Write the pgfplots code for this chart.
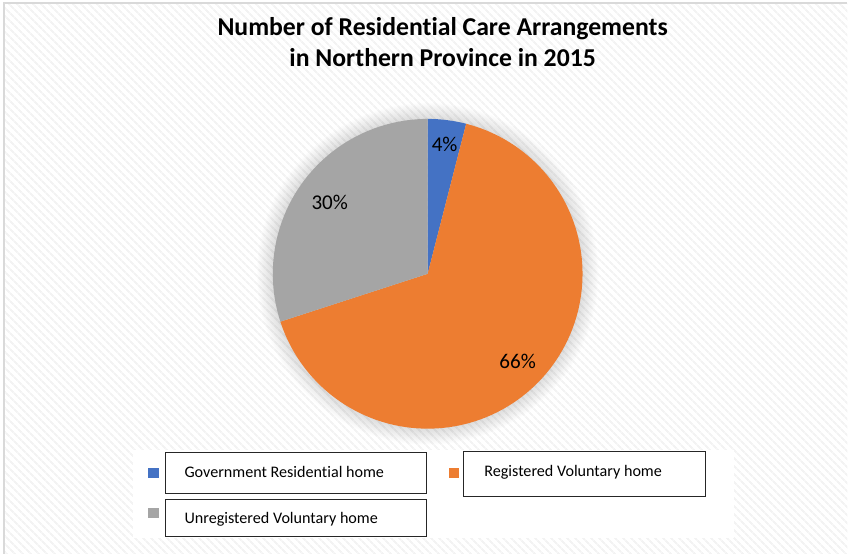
\documentclass[border=0pt]{standalone}
\usepackage{pgfplots}
\pgfplotsset{compat=1.18}
\usepackage{pgfplotstable}
\usepackage{fontspec}
\setmainfont[Ligatures={NoCommon}]{Carlito}
\usetikzlibrary{patterns.meta}

\definecolor{pieblue}{HTML}{4472C4}
\definecolor{pieorange}{HTML}{ED7D31}
\definecolor{piegray}{HTML}{A5A5A5}
\definecolor{framegray}{HTML}{D9D9D9}
\definecolor{hatch}{HTML}{F3F3F3}

\pgfplotstableread{
label value
Government 4
Registered 66
Unregistered 30
}\piedata

\pgfplotstablegetelem{0}{value}\of\piedata \let\vA\pgfplotsretval
\pgfplotstablegetelem{1}{value}\of\piedata \let\vB\pgfplotsretval
\pgfplotstablegetelem{2}{value}\of\piedata \let\vC\pgfplotsretval

\pgfmathsetmacro{\azero}{90}
\pgfmathsetmacro{\aone}{\azero-3.6*\vA}
\pgfmathsetmacro{\atwo}{\aone-3.6*\vB}
\pgfmathsetmacro{\athree}{\atwo-3.6*\vC}

\def\cx{428}
\def\cy{274}
\def\R{155}

\begin{document}
\begin{tikzpicture}
\begin{axis}[
  hide axis, scale only axis,
  width=636pt, height=415.5pt,
  xmin=0, xmax=848, ymin=0, ymax=554,
  y dir=reverse, clip=false,
]
% background
\fill[white] (axis cs:0,0) rectangle (axis cs:848,554);
\fill[pattern={Lines[angle=-45, distance=4pt, line width=1.6pt]}, pattern color=hatch]
  (axis cs:4,3) rectangle (axis cs:848,554);
\draw[framegray, line width=1pt] (axis cs:4,554) -- (axis cs:4,3) -- (axis cs:848,3);
% legend background
\fill[white] (axis cs:133,450) rectangle (axis cs:735,538);
% glow shadow
\pgfplotsinvokeforeach{1,...,16}{
  \fill[black, opacity=0.008] (axis cs:\cx,\cy) circle [radius={(\R+#1)*0.75pt}];
}
% pie slices
\addplot[fill=pieblue, draw=none, domain=\aone:\azero, samples=20, variable=\t]
  ({\cx+\R*cos(\t)}, {\cy-\R*sin(\t)}) -- (axis cs:\cx,\cy) -- cycle;
\addplot[fill=pieorange, draw=none, domain=\atwo:\aone, samples=120, variable=\t]
  ({\cx+\R*cos(\t)}, {\cy-\R*sin(\t)}) -- (axis cs:\cx,\cy) -- cycle;
\addplot[fill=piegray, draw=none, domain=\athree:\atwo, samples=60, variable=\t]
  ({\cx+\R*cos(\t)}, {\cy-\R*sin(\t)}) -- (axis cs:\cx,\cy) -- cycle;
% data labels
\node[font=\fontsize{15.8}{18}\selectfont] at (axis cs:445,145) {\vA\%};
\node[font=\fontsize{15.8}{18}\selectfont] at (axis cs:330,203) {\vC\%};
\node[font=\fontsize{15.8}{18}\selectfont] at (axis cs:518,362) {\vB\%};
% title
\node[font=\fontsize{19.3}{23.3}\selectfont\bfseries, align=center] at (axis cs:443,42)
  {Number of Residential Care Arrangements\\in Northern Province in 2015};
% legend
\fill[pieblue] (axis cs:148.5,468) rectangle (axis cs:159,478);
\fill[pieorange] (axis cs:449,468) rectangle (axis cs:459.5,478);
\fill[piegray] (axis cs:148.5,508) rectangle (axis cs:159,518);
\draw[black!85, line width=0.9pt] (axis cs:166,453) rectangle (axis cs:427,494);
\draw[black!85, line width=0.9pt] (axis cs:464,452) rectangle (axis cs:706,497);
\draw[black!85, line width=0.9pt] (axis cs:166,500) rectangle (axis cs:427,537);
\node[anchor=west, font=\fontsize{12.1}{14}\selectfont] at (axis cs:180,472.5) {Government Residential home};
\node[anchor=west, font=\fontsize{12.1}{14}\selectfont] at (axis cs:480,472.5) {Registered Voluntary home};
\node[anchor=west, font=\fontsize{12.1}{14}\selectfont] at (axis cs:180,520) {Unregistered Voluntary home};
\end{axis}
\end{tikzpicture}
\end{document}
